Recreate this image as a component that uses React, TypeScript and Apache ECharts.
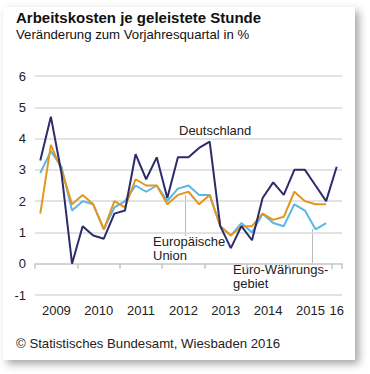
import React, { useEffect, useRef } from "react";
import * as echarts from "echarts";

const years = ["2009", "2010", "2011", "2012", "2013", "2014", "2015", "2016"];
const quarters = ["Q1", "Q2", "Q3", "Q4"];
const categories: string[] = [];
years.forEach((y) => quarters.forEach((q) => categories.push(y + " " + q)));
categories.splice(29); // through 2016 Q1

const yearLabels = ["2009", "2010", "2011", "2012", "2013", "2014", "2015", "16"];

const deutschland = [3.3, 4.7, 2.9, 0.0, 1.2, 0.9, 0.8, 1.6, 1.7, 3.5, 2.7, 3.4, 2.1, 3.4, 3.4, 3.7, 3.9, 1.2, 0.5, 1.2, 0.75, 2.1, 2.6, 2.2, 3.0, 3.0, 2.5, 2.0, 3.1];
const europaeischeUnion = [1.6, 3.8, 3.0, 1.9, 2.2, 1.9, 1.1, 2.0, 1.8, 2.7, 2.5, 2.5, 1.9, 2.2, 2.3, 1.9, 2.2, 1.2, 0.9, 1.2, 1.2, 1.6, 1.4, 1.5, 2.3, 2.0, 1.9, 1.9, null];
const euroRaum = [2.9, 3.6, 3.1, 1.7, 2.0, 1.9, 1.1, 1.8, 2.0, 2.5, 2.3, 2.5, 2.0, 2.4, 2.5, 2.2, 2.2, 1.2, 0.9, 1.3, 1.0, 1.6, 1.3, 1.2, 1.9, 1.7, 1.1, 1.3, null];

const FONT = "'Liberation Sans', Arial, sans-serif";

export default function App() {
  const ref = useRef<HTMLDivElement>(null);
  useEffect(() => {
    if (!ref.current) return;
    const chart = echarts.init(ref.current, null, { renderer: "svg" });
    chart.setOption({
      animation: false,
      textStyle: { fontFamily: FONT },
      title: {
        text: "Arbeitskosten je geleistete Stunde",
        subtext: "Veränderung zum Vorjahresquartal in %",
        left: 16,
        top: 10,
        itemGap: 3,
        padding: 0,
        textStyle: { fontFamily: FONT, fontSize: 15, fontWeight: "bold", color: "#111" },
        subtextStyle: { fontFamily: FONT, fontSize: 13.2, color: "#111" },
      },
      grid: { left: 35, right: 28, top: 76, bottom: 79 },
      xAxis: {
        type: "category",
        data: categories,
        boundaryGap: true,
        axisLine: { show: true, lineStyle: { color: "#d0d0d0", width: 1.5 } },
        axisTick: {
          show: true,
          length: 5,
          interval: (i: number) => i % 4 === 0,
          lineStyle: { color: "#c4c4c4", width: 1.5 },
        },
        axisLabel: {
          interval: (i: number) => i % 4 === 1 || i === 28,
          margin: 9,
          formatter: (_v: string, i: number) => {
            const yi = Math.floor(i / 4);
            return i === 28 ? "{e|" + yearLabels[yi] + "}" : "{a|" + yearLabels[yi] + "}";
          },
          rich: {
            a: { fontFamily: FONT, fontSize: 13, color: "#222", padding: [0, 0, 0, 11] },
            e: { fontFamily: FONT, fontSize: 13, color: "#222" },
          },
        },
        splitLine: { show: false },
      },
      yAxis: {
        type: "value",
        min: -1,
        max: 6,
        interval: 1,
        axisLine: { show: false },
        axisTick: { show: false },
        axisLabel: { fontFamily: FONT, fontSize: 13, color: "#222", margin: 9 },
        splitLine: { lineStyle: { color: "#dadada", width: 1.5 } },
      },
      series: [
        {
          name: "Euro-Währungsgebiet",
          type: "line",
          data: euroRaum,
          symbol: "none",
          lineStyle: { color: "#5bb6e6", width: 2 },
          z: 3,
        },
        {
          name: "Europäische Union",
          type: "line",
          data: europaeischeUnion,
          symbol: "none",
          lineStyle: { color: "#e3961f", width: 2 },
          z: 4,
        },
        {
          name: "Deutschland",
          type: "line",
          data: deutschland,
          symbol: "none",
          lineStyle: { color: "#2c2c6c", width: 2 },
          z: 5,
        },
      ],
      graphic: [
        { type: "text", left: 179, top: 124, style: { text: "Deutschland", fontFamily: FONT, fontSize: 13, fill: "#222" } },
        { type: "line", shape: { x1: 185.5, y1: 195, x2: 185.5, y2: 236 }, style: { stroke: "#bbb", lineWidth: 1 } },
        { type: "text", left: 153, top: 234, style: { text: "Europäische\nUnion", fontFamily: FONT, fontSize: 13, lineHeight: 14, fill: "#222" } },
        { type: "line", shape: { x1: 312.5, y1: 229, x2: 312.5, y2: 263 }, style: { stroke: "#bbb", lineWidth: 1 } },
        { type: "text", left: 233, top: 262, style: { text: "Euro-Währungs-\ngebiet", fontFamily: FONT, fontSize: 13, lineHeight: 14, fill: "#222" } },
        { type: "text", left: 16, top: 337, style: { text: "© Statistisches Bundesamt, Wiesbaden 2016", fontFamily: FONT, fontSize: 13.2, fill: "#222" } },
      ],
    });
    return () => chart.dispose();
  }, []);
  return (
    <div style={{ position: "fixed", left: 0, top: 0, width: 370, height: 374, background: "#fff" }}>
      <div
        style={{
          position: "absolute",
          left: 3,
          top: 7,
          width: 352,
          height: 353,
          background: "#fff",
          boxShadow: "4px 4px 8px rgba(0,0,0,0.35)",
        }}
      />
      <div ref={ref} style={{ position: "absolute", left: 0, top: 0, width: 370, height: 374 }} />
    </div>
  );
}
